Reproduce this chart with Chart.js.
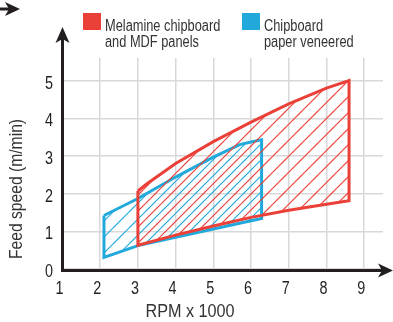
<!DOCTYPE html>
<html><head><meta charset="utf-8">
<script src="https://cdn.jsdelivr.net/npm/chart.js@4.4.1/dist/chart.umd.min.js"></script>
<style>html,body{margin:0;padding:0;background:#fff;}canvas{display:block;}</style>
</head><body>
<canvas id="c" width="393" height="322"></canvas>
<script>
// ---- data ----
const xTickValues = [1, 2, 3, 4, 5, 6, 7, 8, 9];
const yTickValues = [0, 1, 2, 3, 4, 5];
const seriesNames = ["Melamine chipboard|and MDF panels", "Chipboard|paper veneered"];
const xTitle = "RPM x 1000";
const yTitle = "Feed speed (m/min)";
// Melamine chipboard and MDF panels (red region)
const redTopX = [3, 3.25, 4, 5, 6, 7, 8, 8.6];
const redTopY = [2.07, 2.27, 2.8, 3.38, 3.9, 4.38, 4.8, 5.0];
const redBottomX = [3, 4, 5, 6, 7, 8, 8.6];
const redBottomY = [0.63, 0.9, 1.14, 1.37, 1.56, 1.72, 1.81];
// Chipboard paper veneered (blue region)
const blueTopX = [2.1, 3, 4, 5, 5.7, 6, 6.28];
const blueTopY = [1.42, 1.87, 2.44, 2.97, 3.3, 3.37, 3.43];
const blueBottomX = [2.1, 3, 4, 5, 6, 6.28];
const blueBottomY = [0.31, 0.62, 0.84, 1.06, 1.28, 1.34];

const RED = "#eb4038", BLUE = "#21a9dc", INK = "#231f20", GRID = "#d8d8d8", TXT = "#333";
const FONT = "'Liberation Sans', Arial, sans-serif";

function polygon(tx, ty, bx, by) {
  const pts = [];
  for (let i = 0; i < tx.length; i++) pts.push({x: tx[i], y: ty[i]});
  for (let i = bx.length - 1; i >= 0; i--) pts.push({x: bx[i], y: by[i]});
  pts.push({x: tx[0], y: ty[0]});
  return pts;
}
function hatch(color, phase) {
  const s = 16, c = document.createElement('canvas');
  c.width = s; c.height = s;
  const g = c.getContext('2d');
  g.strokeStyle = color; g.lineWidth = 1.2;
  g.beginPath();
  g.moveTo(-2, phase + 2); g.lineTo(phase + 2, -2);
  g.moveTo(phase - 2, s + 2); g.lineTo(s + 2, phase - 2);
  g.stroke();
  return g.createPattern(c, 'repeat');
}
const ctx = document.getElementById('c').getContext('2d');

function arrowHead(g, tipX, tipY, dir) {
  g.beginPath();
  if (dir === 'right') {
    g.moveTo(tipX, tipY);
    g.lineTo(tipX - 15, tipY - 7);
    g.lineTo(tipX - 11, tipY);
    g.lineTo(tipX - 15, tipY + 7);
  } else {
    g.moveTo(tipX, tipY);
    g.lineTo(tipX - 7, tipY + 16);
    g.lineTo(tipX, tipY + 12);
    g.lineTo(tipX + 7, tipY + 16);
  }
  g.closePath();
  g.fill();
}
// condensed-looking text: draw with a horizontal squeeze
function sText(g, txt, x, y, align, sx, rot) {
  g.save();
  g.translate(x, y);
  if (rot) g.rotate(rot);
  g.scale(sx, 1);
  g.textAlign = align;
  g.fillText(txt, 0, 0);
  g.restore();
}

const decor = {
  id: 'decor',
  afterDraw(chart) {
    const g = chart.ctx, a = chart.chartArea;
    const xs = chart.scales.x, ys = chart.scales.y;
    g.save();
    // axes with arrows
    g.strokeStyle = INK; g.fillStyle = INK; g.lineWidth = 3;
    g.beginPath();
    g.moveTo(a.left, 31); g.lineTo(a.left, a.bottom + 1.5);
    g.lineTo(383, a.bottom + 1.5);
    g.stroke();
    arrowHead(g, a.left, 27, 'up');
    arrowHead(g, 393, a.bottom + 1.5, 'right');
    // stray arrow at top-left corner
    g.beginPath(); g.moveTo(0, 9); g.lineTo(12, 9); g.stroke();
    arrowHead(g, 20, 9, 'right');
    // tick labels
    g.fillStyle = INK;
    g.font = "18px " + FONT;
    g.textBaseline = 'middle';
    xTickValues.forEach(v => sText(g, String(v), xs.getPixelForValue(v) - 3, 289, 'center', 0.8));
    yTickValues.forEach(v => sText(g, String(v), 53, ys.getPixelForValue(v) + 3, 'right', 0.8));
    // axis titles
    g.fillStyle = TXT;
    sText(g, xTitle, 190, 312, 'center', 0.9);
    sText(g, yTitle, 17, 189, 'center', 0.87, -Math.PI / 2);
    // legend
    const items = [[RED, 83, seriesNames[0]], [BLUE, 242, seriesNames[1]]];
    g.font = "16px " + FONT;
    g.textBaseline = 'alphabetic';
    items.forEach(([col, x, txt]) => {
      g.fillStyle = col; g.fillRect(x, 13, 18, 17);
      g.fillStyle = TXT;
      txt.split('|').forEach((t, i) => sText(g, t, x + 22, 31 + i * 15.5, 'left', 0.8));
    });
    g.restore();
  }
};

new Chart(ctx, {
  type: 'scatter',
  data: {
    datasets: [
      {
        label: seriesNames[0].replace('|', ' '),
        data: polygon(redTopX, redTopY, redBottomX, redBottomY),
        showLine: true, fill: 'shape', tension: 0,
        borderColor: RED, borderWidth: 3, borderJoinStyle: 'miter',
        backgroundColor: hatch(RED, 13), pointRadius: 0
      },
      {
        label: seriesNames[1].replace('|', ' '),
        data: polygon(blueTopX, blueTopY, blueBottomX, blueBottomY),
        showLine: true, fill: 'shape', tension: 0,
        borderColor: BLUE, borderWidth: 3, borderJoinStyle: 'miter',
        backgroundColor: hatch(BLUE, 5), pointRadius: 0
      }
    ]
  },
  options: {
    responsive: false, animation: false,
    layout: {padding: {left: 0, top: 58, right: 10, bottom: 0}},
    plugins: {legend: {display: false}, tooltip: {enabled: false}},
    scales: {
      x: {
        type: 'linear', min: 1, max: 9.5,
        afterBuildTicks: s => { s.ticks = xTickValues.map(v => ({value: v})); },
        afterFit: s => { s.height = 53; },
        grid: {color: GRID, lineWidth: 1.5, drawTicks: false},
        border: {display: false},
        ticks: {display: false}
      },
      y: {
        type: 'linear', min: 0, max: 5.6,
        afterBuildTicks: s => { s.ticks = yTickValues.map(v => ({value: v})); },
        afterFit: s => { s.width = 62.5; },
        grid: {color: GRID, lineWidth: 1.5, drawTicks: false},
        border: {display: false},
        ticks: {display: false}
      }
    }
  },
  plugins: [decor]
});
</script>
</body></html>
